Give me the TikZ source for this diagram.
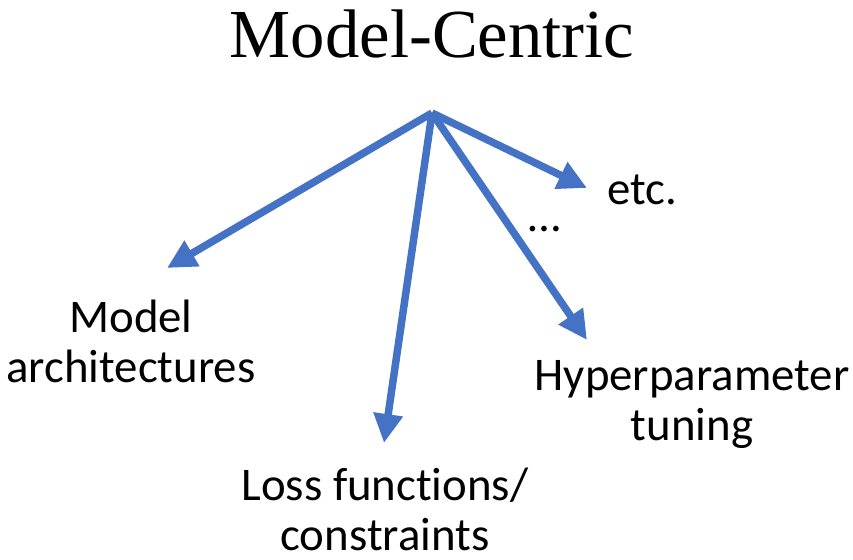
\documentclass[tikz,border=0pt]{standalone}
\usepackage{fontspec}
\setmainfont{Carlito}[Ligatures=NoCommon]
\newfontfamily\titlefont{Liberation Serif}
\usetikzlibrary{arrows.meta}
\definecolor{arrowblue}{HTML}{4472C4}
\begin{document}
\begin{tikzpicture}[x=1bp,y=-1bp,
  branch/.style={draw=arrowblue,line width=7.5bp,
    -{Triangle[length=29bp,width=28bp]}},
  label/.style={inner sep=0pt,anchor=base,align=center,
    font=\fontsize{47}{50}\selectfont}]
  \useasboundingbox (0,0) rectangle (853,560);
  % heading
  \node[inner sep=0pt,anchor=base,font=\titlefont\fontsize{69}{72}\selectfont]
    (title) at (432,58) {Model-Centric};
  % root of the branches and their tips
  \coordinate (root) at (432,113);
  \coordinate (archtip) at (167,268);
  \coordinate (losstip) at (384,443);
  \coordinate (hyptip) at (587,340);
  \coordinate (etctip) at (587,188);
  \draw[branch] (root) -- (archtip);
  \draw[branch] (root) -- (losstip);
  \draw[branch] (root) -- (hyptip);
  \draw[branch] (root) -- (etctip);
  % labels (anchored on the baseline of their last line)
  \node[label] (arch) at (131,382) {Model\\architectures};
  \node[label] (loss) at (385,550) {Loss functions/\\constraints};
  \node[label] (hyp) at (692,440) {Hyperparameter\\tuning};
  \node[label] (etc) at (642,205) {etc.};
  \node[label] (dots) at (545,232) {…};
\end{tikzpicture}
\end{document}
